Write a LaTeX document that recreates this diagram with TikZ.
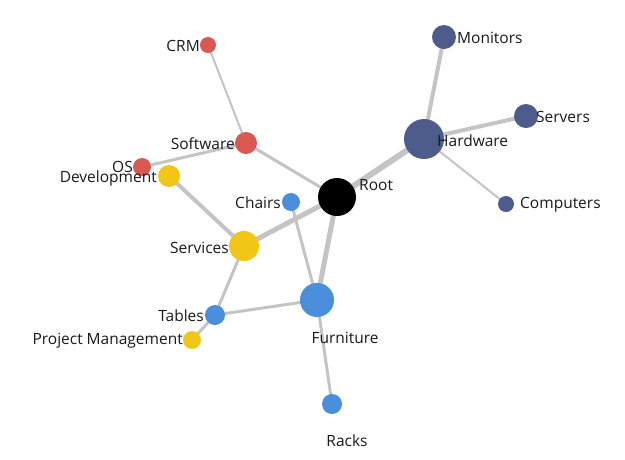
\documentclass[tikz,border=0pt]{standalone}
\usepackage{fontspec}
\setmainfont{Open Sans}
\usetikzlibrary{backgrounds}
\definecolor{redc}{RGB}{217,88,82}
\definecolor{yellowc}{RGB}{242,198,22}
\definecolor{bluec}{RGB}{74,142,220}
\definecolor{navyc}{RGB}{78,92,140}
\definecolor{edgec}{RGB}{196,196,196}

\begin{document}
\begin{tikzpicture}[x=1pt,y=-1pt,
  dot/.style={circle,inner sep=0pt,minimum size=#1},
  lbl/.style={inner sep=0pt,font=\fontsize{15.5}{18}\selectfont,text=black!90},
  link/.style={edgec,line width=#1}]
\useasboundingbox (0,0) rectangle (625,459);
% nodes
\node[dot=38pt,fill=black] (root) at (337,197) {};
\node[dot=40pt,fill=navyc] (hardware) at (424,139) {};
\node[dot=24pt,fill=navyc] (monitors) at (444,37) {};
\node[dot=24pt,fill=navyc] (servers) at (526,116) {};
\node[dot=16pt,fill=navyc] (computers) at (506,204) {};
\node[dot=22pt,fill=redc] (software) at (246,143) {};
\node[dot=16pt,fill=redc] (crm) at (208,45) {};
\node[dot=18pt,fill=redc] (os) at (142,167) {};
\node[dot=22pt,fill=yellowc] (development) at (169,176) {};
\node[dot=30pt,fill=yellowc] (services) at (244,246) {};
\node[dot=18pt,fill=yellowc] (projmgmt) at (192,340) {};
\node[dot=18pt,fill=bluec] (chairs) at (291,202) {};
\node[dot=34pt,fill=bluec] (furniture) at (317,300) {};
\node[dot=20pt,fill=bluec] (tables) at (215,315) {};
\node[dot=20pt,fill=bluec] (racks) at (332,404) {};
% links
\begin{scope}[on background layer]
\draw[link=6pt] (root.center) -- (hardware.center);
\draw[link=5pt] (root.center) -- (furniture.center);
\draw[link=5pt] (root.center) -- (services.center);
\draw[link=3pt] (root.center) -- (software.center);
\draw[link=4pt] (hardware.center) -- (monitors.center);
\draw[link=4pt] (hardware.center) -- (servers.center);
\draw[link=2pt] (hardware.center) -- (computers.center);
\draw[link=2pt] (software.center) -- (crm.center);
\draw[link=3pt] (software.center) -- (os.center);
\draw[link=4pt] (services.center) -- (development.center);
\draw[link=3pt] (services.center) -- (tables.center);
\draw[link=3pt] (tables.center) -- (projmgmt.center);
\draw[link=3pt] (tables.center) -- (furniture.center);
\draw[link=3pt] (chairs.center) -- (furniture.center);
\draw[link=3pt] (furniture.center) -- (racks.center);
\end{scope}
% labels
\node[lbl,anchor=west] (t-root) at (359,185) {Root};
\node[lbl,anchor=west] (t-hardware) at (437,141) {Hardware};
\node[lbl,anchor=west] (t-monitors) at (457,38) {Monitors};
\node[lbl,anchor=west] (t-servers) at (536,117) {Servers};
\node[lbl,anchor=west] (t-computers) at (520,205) {Computers};
\node[lbl,anchor=east] (t-software) at (235,144) {Software};
\node[lbl,anchor=east] (t-crm) at (200,46) {CRM};
\node[lbl,anchor=east] (t-os) at (133,167) {OS};
\node[lbl,anchor=east] (t-development) at (157,178) {Development};
\node[lbl,anchor=east] (t-services) at (229,248) {Services};
\node[lbl,anchor=east] (t-projmgmt) at (183,341) {Project Management};
\node[lbl,anchor=east] (t-chairs) at (281,203) {Chairs};
\node[lbl,anchor=east] (t-tables) at (204,316) {Tables};
\node[lbl] (t-furniture) at (345,338) {Furniture};
\node[lbl] (t-racks) at (347,441) {Racks};
\end{tikzpicture}
\end{document}
